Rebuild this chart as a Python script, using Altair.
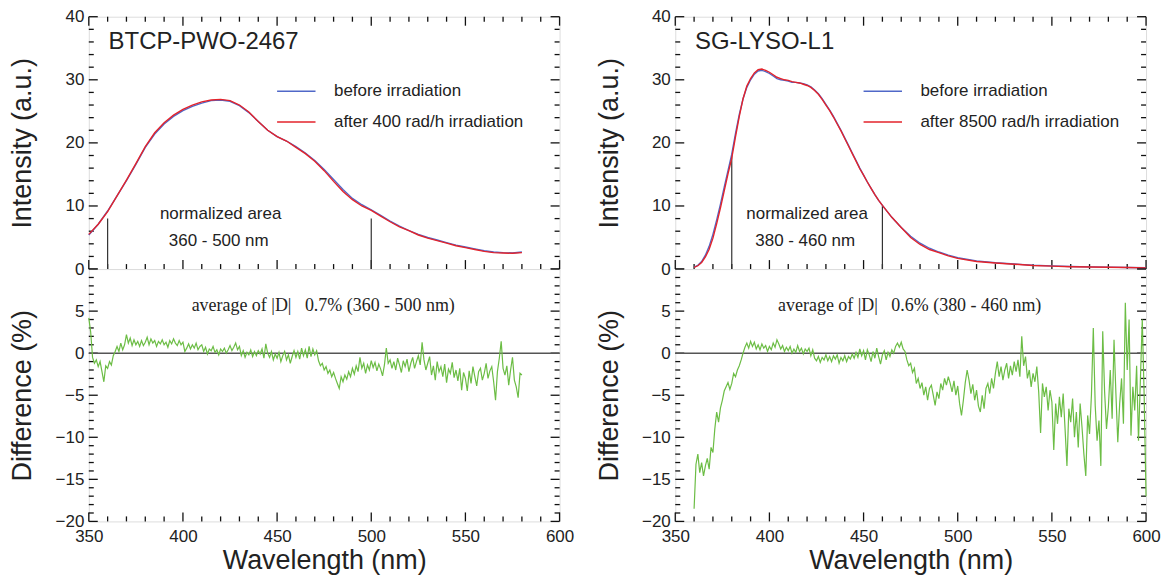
import altair as alt
import pandas as pd

# ---------------- data ----------------
# BTCP-PWO-2467 emission spectrum (5 nm grid)
pwo_wl = list(range(350, 581, 5))
pwo_before = [5.4, 7.1, 9.2, 11.6, 14.0, 16.6, 19.3, 21.4, 23.0, 24.2,
              25.1, 25.8, 26.3, 26.7, 26.8, 26.6, 25.9, 24.8, 23.4, 22.0,
              21.0, 20.3, 19.4, 18.4, 17.2, 15.8, 14.2, 12.6, 11.2, 10.2,
              9.4, 8.5, 7.6, 6.8, 6.1, 5.5, 5.0, 4.6, 4.2, 3.8,
              3.5, 3.2, 2.9, 2.7, 2.6, 2.55, 2.7]
pwo_after = [5.5, 7.1, 9.1, 11.6, 14.1, 16.7, 19.4, 21.6, 23.2, 24.4,
             25.3, 26.0, 26.5, 26.8, 26.9, 26.7, 26.0, 24.9, 23.4, 22.0,
             21.0, 20.3, 19.3, 18.3, 17.1, 15.6, 13.9, 12.3, 11.0, 10.0,
             9.3, 8.4, 7.5, 6.7, 6.1, 5.4, 4.9, 4.5, 4.1, 3.7,
             3.4, 3.1, 2.8, 2.6, 2.55, 2.5, 2.6]

# SG-LYSO-L1 emission spectrum
lyso_wl = list(range(360, 461, 2)) + list(range(465, 501, 5)) + list(range(510, 601, 10))
lyso_before = [0.3, 0.6, 1.2, 2.2, 3.6, 5.5, 7.8, 10.3, 13.0, 15.6,
               18.2, 21.5, 24.5, 27.0, 28.8, 30.0, 30.9, 31.4, 31.5, 31.3,
               31.0, 30.6, 30.2, 30.0, 29.9, 29.8, 29.6, 29.6, 29.5, 29.4,
               29.2, 28.9, 28.4, 27.8, 27.0, 26.1, 25.2, 24.2, 23.1, 22.0,
               20.8, 19.6, 18.4, 17.2, 16.0, 14.9, 13.8, 12.8, 11.8, 10.9,
               10.1,
               8.2, 6.6, 5.2, 4.1, 3.3, 2.7, 2.2, 1.8,
               1.3, 1.0, 0.8, 0.6, 0.5, 0.4, 0.35, 0.3, 0.25, 0.2]
lyso_after = [0.25, 0.52, 1.05, 1.92, 3.15, 4.9, 7.2, 9.7, 12.4, 15.1,
              17.6, 21.0, 24.2, 27.0, 29.0, 30.2, 31.1, 31.6, 31.7, 31.5,
              31.2, 30.8, 30.4, 30.2, 30.0, 29.9, 29.7, 29.6, 29.5, 29.3,
              29.1, 28.8, 28.3, 27.7, 26.9, 26.0, 25.1, 24.1, 23.0, 21.9,
              20.7, 19.5, 18.3, 17.1, 15.9, 14.9, 13.8, 12.8, 11.8, 10.9,
              10.1,
              8.2, 6.6, 5.0, 3.9, 3.1, 2.6, 2.1, 1.7,
              1.2, 0.97, 0.77, 0.57, 0.46, 0.36, 0.32, 0.28, 0.24, 0.18]

# Difference (%) after vs before, 1 nm grid
pwo_diff_wl = list(range(350, 581))
pwo_diff = [
    4.2, 2.5, -0.5, -1.2, -0.8, -1.6, -1.0, -2.2, -3.4, -1.5,
    -1.8, -1.0, -1.4, -0.3, 0.2, 0.8, 0.2, 1.2, 0.4, 1.0,
    2.2, 1.2, 1.8, 0.9, 1.6, 1.0, 1.4, 0.8, 1.5, 0.9,
    1.3, 1.9, 1.0, 1.7, 1.2, 1.5, 0.8, 1.4, 1.1, 1.6,
    1.0, 1.3, 0.7, 1.5, 1.1, 1.7, 1.2, 0.9, 1.5, 1.0,
    1.3, 0.2, 0.6, 1.1, 0.5, 1.0, 0.6, 1.2, 0.4, 0.8,
    1.0, 0.2, 0.7, -0.1, 0.5, 0.3, 0.8, 0.1, 0.4, -0.2,
    0.5, 0.2, 0.6, 0.0, 0.4, 0.9, 0.3, 0.7, 1.2, 0.4,
    0.8, -0.3, 0.3, -0.5, 0.1, -0.2, 0.4, -0.4, 0.2, -0.3,
    0.3, -0.1, 0.5, -0.6, 1.1, 0.0, -0.5, 0.2, -0.8, -0.1,
    -0.6, 0.1, -1.0, -0.3, 0.2, -0.8, -0.2, -1.2, -0.4, 0.3,
    -0.5, 0.2, -0.7, 0.6, -0.3, 0.4, -0.6, 0.8, -0.4, 0.5,
    -0.2, 0.3, -0.9, -1.5, -1.2, -2.0, -1.6, -2.4, -2.0, -2.8,
    -2.3, -3.0, -3.6, -4.2, -2.8, -3.4, -2.6, -3.1, -2.2, -2.8,
    -1.8, -2.5, -1.5, -2.2, -0.5, -1.8, -1.2, -2.4, -1.4, -2.0,
    -0.9, -1.7, -1.1, -2.1, -1.3, -1.9, -2.7, -1.4, 0.6, -1.2,
    -0.8, -1.8, -1.0, -2.0, -0.6, -1.4, -2.3, -0.9, -1.6, -0.7,
    -2.2, -1.2, -0.5, -1.8, -1.0, -0.3, -1.4, 1.3, -0.8, -2.0,
    -1.2, -0.4, -2.6, -1.5, -3.2, -1.0, -2.2, -1.6, -2.8, -1.3,
    -3.5, -1.9, -2.4, -1.1, -2.9, -2.0, -3.3, -1.8, -4.4, -2.3,
    -3.0, -4.5, -2.1, -3.6, -1.6, -2.8, -3.9, -2.2, -1.8, -3.2,
    -2.4, -1.2, -3.0, -2.1, -1.6, -3.4, -5.6, -2.2, -0.6, 1.4,
    -1.8, -2.6, -1.5, -3.8, -2.0, -0.5, -3.2, -4.0, -5.3, -2.4,
    -2.6]

lyso_diff_wl = list(range(360, 601))
lyso_diff = [
    -18.5, -13.2, -12.0, -14.2, -13.0, -14.6, -13.4, -12.5, -13.8, -11.2,
    -11.8, -9.0, -7.0, -8.2, -6.5, -5.6, -4.5, -4.0, -3.5, -4.3,
    -3.6, -2.4, -2.8, -2.0, -1.5, -0.8, 0.0, 0.7, 1.2, 0.6,
    1.4, 0.8, 1.3, 0.5, 1.0, 0.4, 1.1, 0.6, 0.9, 0.2,
    0.8, 0.4, 1.2, 0.7, 1.6, 1.1, 0.5, 0.9, 0.2, 0.7,
    0.3, 0.8, 0.0, 0.5, 0.1, 0.9, 0.2, 0.6, -0.1, 0.5,
    0.2, 0.6, -0.3, 0.4, -0.6, -0.9, -0.4, -1.1, -0.5, -0.8,
    -0.2, -0.9, -0.4, -1.0, -0.3, -0.7, -0.2, -1.2, -0.5, -0.9,
    -0.3, -1.0, -0.4, -0.7, -0.1, -0.6, 0.1, -0.5, 0.5, -0.3,
    0.3, -0.8, 0.4, -0.2, -1.0, 0.2, -0.6, 0.6, -0.4, -1.3,
    -0.2, 0.3, -0.8, 0.1, -0.4, 0.4, 0.0, 0.8, 1.2, 0.7,
    1.3, 0.5, 0.2, -0.8, -1.5, -1.2, -2.3, -1.8, -3.6, -3.0,
    -4.2, -3.5, -5.0, -4.0, -5.6, -4.2, -3.8, -5.0, -6.2, -4.6,
    -5.4, -3.6, -4.4, -3.0, -3.8, -2.8, -3.6, -4.6, -3.3, -5.0,
    -3.9, -6.0, -7.4, -5.6, -3.5, -2.0, -3.2, -4.8, -3.7, -5.6,
    -4.4, -6.3, -7.0, -5.0, -6.6, -4.2, -3.6, -4.8, -3.0, -4.2,
    -2.4, -1.0, -2.8, -1.6, -3.2, -2.0, -1.2, -3.0, -1.5, -2.6,
    -1.0, -2.2, -0.8, -2.8, 2.0, -1.5, -0.4, -3.0, -2.0, -4.0,
    -2.4, -3.4, -1.6, -4.6, -9.5, -3.6, -5.2, -4.0, -6.8, -4.4,
    -5.8, -11.5, -6.0, -8.4, -5.2, -7.6, -4.8, -9.0, -13.4, -6.6,
    -8.2, -5.4, -10.0, -7.0, -11.2, -6.0, -8.8, -12.0, -14.6, -7.4,
    -9.6, -5.0, 3.0, -6.2, -10.4, -8.0, -13.4, 2.6, -4.6, -9.0,
    -6.4, -2.0, -7.8, 1.6, -4.8, -10.6, -6.0, -3.0, -8.4, 6.0,
    -2.0, 4.0, -9.8, -4.0, -6.8, -1.5, -10.4, -3.2, 4.0, -5.0,
    -17.0]

# normalisation-window markers (wavelength, height of the marker line)
pwo_marker_wl = [360, 500]
pwo_marker_top = [8, 8]
lyso_marker_wl = [380, 460]
lyso_marker_top = [18, 10]

# axis ticks
x_major = [350, 400, 450, 500, 550, 600]
x_minor = [v for v in range(360, 600, 10) if v % 50 != 0]
top_major = [0, 10, 20, 30, 40]
top_minor = [2, 4, 6, 8, 12, 14, 16, 18, 22, 24, 26, 28, 32, 34, 36, 38]
bot_major = [-20, -15, -10, -5, 0, 5, 10]
bot_minor = [v for v in range(-19, 10) if v % 5 != 0]
bot_labels = [-20, -15, -10, -5, 0, 5]

# ---------------- style ----------------
FONT = "Liberation Sans"
SERIF = "Liberation Serif"
BLUE = "#5068c8"
RED = "#e3232b"
GREEN = "#6cbd45"
FRAME = "#333333"
TICK = "#111111"
INK = "#222222"
W = 472
H_TOP = 253
H_BOT = 253
MAJ, MIN = 9.0, 5.0          # inward tick lengths in pixels

X0, X1 = 350, 600
xs = alt.Scale(domain=[X0, X1], nice=False, zero=False)
ys_top = alt.Scale(domain=[0, 40], nice=False, zero=False)
ys_bot = alt.Scale(domain=[-20, 10], nice=False, zero=False)

ONE = pd.DataFrame({"k": [0]})


def tick_layers(x_enc, y_enc, y_dom, y_major, y_minor, h, top_edge=True):
    """Inward ticks on the frame, drawn as short rules through the chart's scales."""
    px_x = (X1 - X0) / W            # data units per pixel along x
    px_y = (y_dom[1] - y_dom[0]) / h
    layers = []
    for vals, ln in [(x_major, MAJ), (x_minor, MIN)]:
        d = pd.DataFrame({"x": vals, "y": y_dom[0], "y2": y_dom[0] + ln * px_y})
        layers.append(alt.Chart(d).mark_rule(color=TICK, strokeWidth=1.3).encode(
            x=x_enc, y=y_enc, y2="y2:Q"))
        if top_edge:
            d = pd.DataFrame({"x": vals, "y": y_dom[1], "y2": y_dom[1] - ln * px_y})
            layers.append(alt.Chart(d).mark_rule(color=TICK, strokeWidth=1.3).encode(
                x=x_enc, y=y_enc, y2="y2:Q"))
    for vals, ln in [(y_major, MAJ), (y_minor, MIN)]:
        d = pd.DataFrame({"y": vals, "x": X0, "x2": X0 + ln * px_x})
        layers.append(alt.Chart(d).mark_rule(color=TICK, strokeWidth=1.3).encode(
            y=y_enc, x=x_enc, x2="x2:Q"))
        d = pd.DataFrame({"y": vals, "x": X1, "x2": X1 - ln * px_x})
        layers.append(alt.Chart(d).mark_rule(color=TICK, strokeWidth=1.3).encode(
            y=y_enc, x=x_enc, x2="x2:Q"))
    return layers


def label(text, x, y, size, font, align="center"):
    return alt.Chart(ONE).mark_text(text=text, fontSize=size, font=font, color=INK,
                                    align=align, baseline="middle").encode(
        x=alt.datum(x), y=alt.datum(y))


def key_line(color, y):
    return alt.Chart(ONE).mark_rule(color=color, strokeWidth=1.5).encode(
        x=alt.datum(450), x2=alt.datum(470.4), y=alt.datum(y))


def panel(name, wl, before, after, after_label, m_wl, m_top, area_text,
          dwl, diff, avg_text):
    x_top = alt.X("x:Q", scale=xs, axis=None)
    y_top = alt.Y("y:Q", scale=ys_top, axis=alt.Axis(
        values=top_major, ticks=False, domain=False, grid=False,
        labelFontSize=17, labelFont=FONT, labelColor=INK, labelPadding=5,
        labelFlush=False, labelOverlap=False,
        title="Intensity (a.u.)", titleFontSize=27, titleFont=FONT,
        titleFontWeight="normal", titleColor=INK, titleX=-66,
        titleBaseline="middle"))
    d_b = pd.DataFrame({"x": wl, "y": before})
    d_a = pd.DataFrame({"x": wl, "y": after})
    line_b = alt.Chart(d_b).mark_line(color=BLUE, strokeWidth=1.4).encode(x=x_top, y=y_top)
    line_a = alt.Chart(d_a).mark_line(color=RED, strokeWidth=1.4).encode(x=x_top, y=y_top)
    d_m = pd.DataFrame({"x": m_wl, "y": [0] * len(m_wl), "y2": m_top})
    markers = alt.Chart(d_m).mark_rule(color=FRAME, strokeWidth=1.2).encode(
        x=x_top, y=y_top, y2="y2:Q")
    top = alt.layer(
        *tick_layers(x_top, y_top, (0, 40), top_major, top_minor, H_TOP, True),
        markers, line_b, line_a,
        key_line(BLUE, 28.2), key_line(RED, 23.3),
        label("before irradiation", 480.2, 28.2, 17, FONT, "left"),
        label(after_label, 480.2, 23.3, 17, FONT, "left"),
        label(name, 360.5, 36.0, 24, FONT, "left"),
        label("normalized area", 420, 8.8, 17, FONT),
        label(area_text, 419, 4.5, 17, FONT),
    ).properties(width=W, height=H_TOP)

    x_bot = alt.X("x:Q", scale=xs, axis=alt.Axis(
        values=x_major, ticks=False, domain=False, grid=False,
        labelFontSize=17, labelFont=FONT, labelColor=INK, labelPadding=7,
        labelFlush=False, labelOverlap=False,
        title="Wavelength (nm)", titleFontSize=27, titleFont=FONT,
        titleFontWeight="normal", titleColor=INK, titlePadding=3))
    y_bot = alt.Y("y:Q", scale=ys_bot, axis=alt.Axis(
        values=bot_labels, ticks=False, domain=False, grid=False,
        labelFontSize=17, labelFont=FONT, labelColor=INK, labelPadding=5,
        labelFlush=False, labelOverlap=False,
        title="Difference (%)", titleFontSize=27, titleFont=FONT,
        titleFontWeight="normal", titleColor=INK, titleX=-66,
        titleBaseline="middle"))
    zero = alt.Chart(pd.DataFrame({"y": [0]})).mark_rule(
        color="#555555", strokeWidth=1.5).encode(y=y_bot)
    d_d = pd.DataFrame({"x": dwl, "y": diff})
    dline = alt.Chart(d_d).mark_line(color=GREEN, strokeWidth=1.2).encode(x=x_bot, y=y_bot)
    bot = alt.layer(
        *tick_layers(x_bot, y_bot, (-20, 10), bot_major, bot_minor, H_BOT, False),
        zero, dline,
        label(avg_text, 474.5, 5.6, 18, SERIF),
    ).properties(width=W, height=H_BOT)

    return alt.vconcat(top, bot, spacing=0, bounds="flush")


left = panel("BTCP-PWO-2467", pwo_wl, pwo_before, pwo_after,
             "after 400 rad/h irradiation", pwo_marker_wl, pwo_marker_top,
             "360 - 500 nm", pwo_diff_wl, pwo_diff,
             "average of |D|\u00a0\u00a0 0.7% (360 - 500 nm)")
right = panel("SG-LYSO-L1", lyso_wl, lyso_before, lyso_after,
              "after 8500 rad/h irradiation", lyso_marker_wl, lyso_marker_top,
              "380 - 460 nm", lyso_diff_wl, lyso_diff,
              "average of |D|\u00a0\u00a0 0.6% (380 - 460 nm)")

chart = (
    alt.hconcat(left, right, spacing=20)
    .properties(padding={"top": -2, "left": 0, "right": 0, "bottom": 0})
    .configure_view(stroke=FRAME, strokeWidth=1.5)
    .configure(font=FONT)
)

chart.save("out.html", embed_options={"renderer": "svg", "actions": False})
